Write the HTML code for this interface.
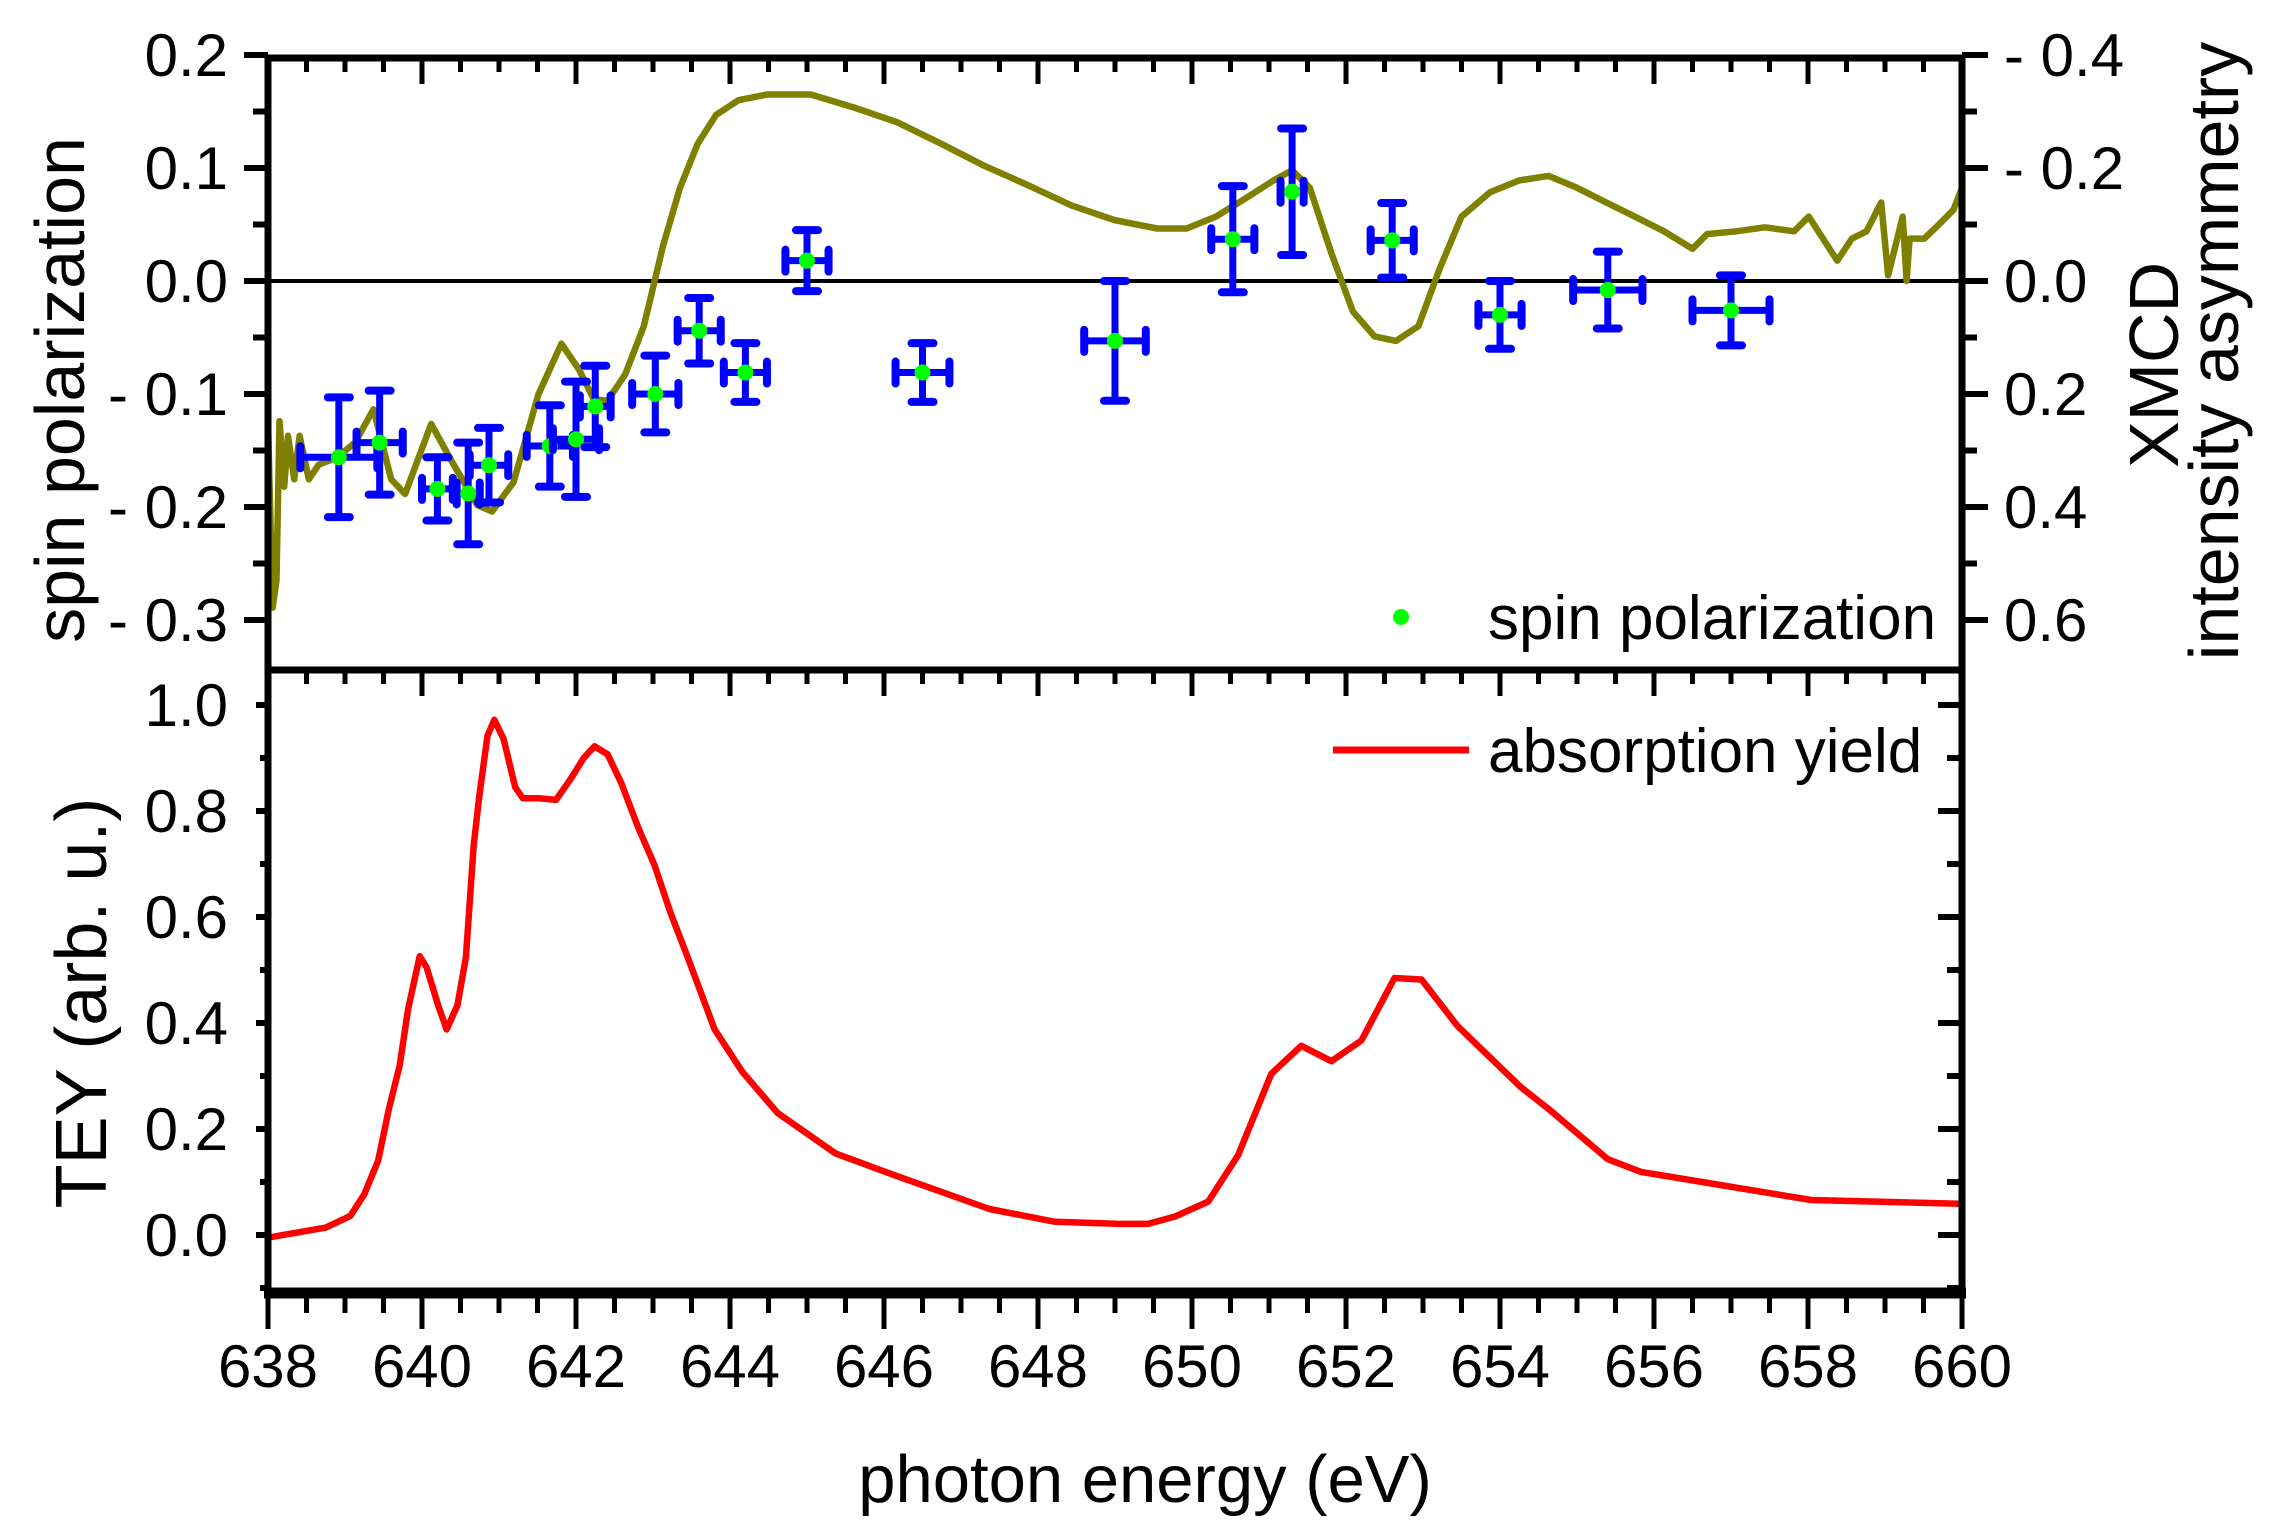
<!DOCTYPE html>
<html><head><meta charset="utf-8"><style>
html,body{margin:0;padding:0;background:#fff;}
svg{display:block;font-family:"Liberation Sans",sans-serif;}
</style></head><body>
<svg id="chart" width="2270" height="1534" viewBox="0 0 2270 1534" xmlns="http://www.w3.org/2000/svg"></svg>
<script>
// ---- data ----
const xTicks = [638,640,642,644,646,648,650,652,654,656,658,660];
const topLeftTicks = [0.2,0.1,0.0,-0.1,-0.2,-0.3];
const topLeftLabels = ["0.2","0.1","0.0","- 0.1","- 0.2","- 0.3"];
const rightTicks = [-0.4,-0.2,0.0,0.2,0.4,0.6];
const rightLabels = ["- 0.4","- 0.2","0.0","0.2","0.4","0.6"];
const botTicks = [0.0,0.2,0.4,0.6,0.8,1.0];
const botLabels = ["0.0","0.2","0.4","0.6","0.8","1.0"];

const spinE = [638.92,639.45,640.2,640.6,640.87,641.66,642.0,642.25,643.03,643.6,644.2,645.0,646.5,649.0,650.53,651.3,652.6,654.0,655.4,657.0];
const spinV = [-0.156,-0.143,-0.184,-0.188,-0.163,-0.146,-0.14,-0.111,-0.10,-0.044,-0.081,0.018,-0.081,-0.053,0.037,0.079,0.036,-0.03,-0.008,-0.026];
const spinYErr = [0.053,0.046,0.028,0.045,0.033,0.036,0.051,0.036,0.034,0.029,0.026,0.027,0.026,0.053,0.047,0.056,0.033,0.03,0.034,0.031];
const spinXErr = [0.5,0.3,0.2,0.15,0.25,0.3,0.3,0.2,0.3,0.28,0.28,0.28,0.35,0.4,0.28,0.15,0.28,0.28,0.45,0.5];

const xmcdE = [638.00,638.06,638.11,638.15,638.21,638.26,638.34,638.41,638.53,638.66,638.90,639.13,639.37,639.60,639.78,640.12,640.39,640.72,640.91,641.19,641.51,641.81,642.04,642.23,642.41,642.64,642.88,643.13,643.35,643.58,643.82,644.11,644.48,645.05,645.61,646.17,646.74,647.30,647.86,648.43,648.99,649.55,649.93,650.31,650.68,651.06,651.30,651.53,651.81,652.09,652.37,652.65,652.94,653.22,653.50,653.87,654.25,654.63,655.00,655.38,655.75,656.13,656.50,656.69,657.07,657.44,657.82,658.01,658.38,658.57,658.76,658.95,659.04,659.23,659.28,659.32,659.51,659.70,659.89,660.00];
const xmcdV = [0.248,0.578,0.53,0.248,0.364,0.274,0.351,0.274,0.351,0.325,0.312,0.286,0.227,0.351,0.377,0.253,0.32,0.397,0.408,0.356,0.201,0.111,0.157,0.209,0.212,0.165,0.08,-0.062,-0.165,-0.243,-0.294,-0.32,-0.33,-0.33,-0.307,-0.281,-0.243,-0.204,-0.17,-0.134,-0.108,-0.093,-0.093,-0.114,-0.145,-0.178,-0.196,-0.165,-0.049,0.054,0.098,0.106,0.08,-0.023,-0.114,-0.157,-0.178,-0.186,-0.165,-0.139,-0.114,-0.088,-0.057,-0.083,-0.088,-0.095,-0.088,-0.114,-0.036,-0.075,-0.088,-0.139,-0.01,-0.114,0.0,-0.075,-0.075,-0.1,-0.126,-0.165];

const absE = [638.04,638.75,639.07,639.25,639.43,639.57,639.71,639.82,639.97,640.06,640.21,640.32,640.46,640.57,640.67,640.74,640.85,640.94,641.06,641.21,641.31,641.53,641.74,641.92,642.10,642.24,642.41,642.59,642.81,643.02,643.23,643.45,643.80,644.16,644.62,645.37,646.15,647.37,648.22,649.06,649.43,649.78,650.21,650.60,651.03,651.42,651.81,652.20,652.63,652.98,653.45,654.27,654.63,655.40,655.83,658.04,659.96];
const absV = [-0.004,0.014,0.036,0.077,0.14,0.238,0.32,0.426,0.526,0.505,0.433,0.388,0.433,0.524,0.733,0.824,0.942,0.972,0.936,0.845,0.824,0.824,0.821,0.858,0.9,0.922,0.907,0.852,0.768,0.698,0.607,0.524,0.388,0.308,0.23,0.154,0.112,0.049,0.025,0.021,0.021,0.035,0.063,0.151,0.304,0.357,0.328,0.367,0.485,0.482,0.394,0.279,0.238,0.143,0.119,0.066,0.059];

// ---- axes ----
const X0=268, X1=1962;
const xs = e => X0 + (e-638)*(X1-X0)/22;
const yTop = v => 281 - v*1130;
const yRight = r => 281 + r*565;
const yBot = v => 1235 - v*530;
const TOP=58, MID=670, BOT=1293;

const svg=document.getElementById('chart');
const NS='http://www.w3.org/2000/svg';
function mk(tag,attrs,parent){const el=document.createElementNS(NS,tag);for(const k in attrs)el.setAttribute(k,attrs[k]);(parent||svg).appendChild(el);return el;}
function line(x1,y1,x2,y2,w,c,p){return mk('line',{x1,y1,x2,y2,'stroke-width':w,stroke:c||'#000'},p);}
function text(x,y,s,size,anchor,p){const t=mk('text',{x,y,'font-size':size,'text-anchor':anchor||'start',fill:'#000'},p);t.textContent=s;return t;}

const zl=line(X0,yTop(0),X1,yTop(0),4,'#000');



let d='';
xmcdE.forEach((e,i)=>{d+=(i?'L':'M')+xs(e).toFixed(1)+' '+yRight(xmcdV[i]).toFixed(1);});
const xp=mk('path',{d,fill:'none',stroke:'#808000','stroke-width':6.5,'stroke-linejoin':'round'});



const gs=mk('g',{});


spinE.forEach((e,i)=>{
  const g=mk('g',{},gs);
  
  
  const cx=xs(e), cy=yTop(spinV[i]);
  const x1=xs(e-spinXErr[i]), x2=xs(e+spinXErr[i]);
  const y1=yTop(spinV[i]+spinYErr[i]), y2=yTop(spinV[i]-spinYErr[i]);
  line(x1,cy,x2,cy,7,'#0000ff',g);
  line(cx,y1,cx,y2,7,'#0000ff',g);
  const c=11;
  mk('line',{x1:cx-c,y1:y1,x2:cx+c,y2:y1,'stroke-width':8,stroke:'#0000ff','stroke-linecap':'round'},g);
  mk('line',{x1:cx-c,y1:y2,x2:cx+c,y2:y2,'stroke-width':8,stroke:'#0000ff','stroke-linecap':'round'},g);
  mk('line',{x1:x1,y1:cy-c,x2:x1,y2:cy+c,'stroke-width':8,stroke:'#0000ff','stroke-linecap':'round'},g);
  mk('line',{x1:x2,y1:cy-c,x2:x2,y2:cy+c,'stroke-width':8,stroke:'#0000ff','stroke-linecap':'round'},g);
  mk('circle',{cx,cy,r:8,fill:'#00ff00'},g);
});

d='';
absE.forEach((e,i)=>{d+=(i?'L':'M')+xs(e).toFixed(1)+' '+yBot(absV[i]).toFixed(1);});
const ap=mk('path',{d,fill:'none',stroke:'#ff0000','stroke-width':6.5,'stroke-linejoin':'round'});



const fr=mk('g',{});


line(X0-3,TOP,X1+3,TOP,7,'#000',fr);
line(X0,TOP,X0,BOT,7,'#000',fr);
line(X1,TOP,X1,BOT,7,'#000',fr);
line(X0-3,MID,X1+3,MID,7,'#000',fr);
line(X0-4,BOT,X1+4,BOT,11,'#000',fr);

for(let e=638;e<=660.001;e+=0.5){
  const x=xs(e), maj=Math.abs(e/2-Math.round(e/2))<1e-6;
  line(x,TOP,x,TOP+(maj?26:14),5,'#000',fr);
  line(x,MID,x,MID+(maj?26:14),5,'#000',fr);
  line(x,BOT,x,BOT+(maj?36:20),5,'#000',fr);
}
for(let v=0.2;v>=-0.34;v-=0.05){const y=yTop(v);const maj=Math.abs(v*10-Math.round(v*10))<1e-6;line(X0,y,X0-(maj?24:15),y,6,'#000',fr);}
for(let r=-0.4;r<=0.69;r+=0.1){const y=yRight(r);const maj=Math.abs(r*5-Math.round(r*5))<1e-6;line(X1,y,X1+(maj?26:15),y,6,'#000',fr);}
for(let v=-0.1;v<=1.06;v+=0.1){const y=yBot(v);const maj=Math.abs(v*5-Math.round(v*5))<1e-6;line(X0,y,X0-(maj?12:8),y,6,'#000',fr);line(X1,y,X1-(maj?24:15),y,6,'#000',fr);}

const tl=mk('g',{});


xTicks.forEach(t=>text(xs(t),1387,String(t),60,'middle',tl));
topLeftTicks.forEach((t,i)=>text(228,yTop(t)+21,topLeftLabels[i],60,'end',tl));
rightTicks.forEach((t,i)=>text(2004,yRight(t)+21,rightLabels[i],60,'start',tl));
botTicks.forEach((t,i)=>text(228,yBot(t)+21,botLabels[i],60,'end',tl));

const xt=text(1145,1502,'photon energy (eV)',67,'middle');


const lt=text(0,0,'spin polarization',70,'middle');
lt.setAttribute('transform','translate(84,390) rotate(-90)');


const bt=text(0,0,'TEY (arb. u.)',72,'middle');
bt.setAttribute('transform','translate(106,1003) rotate(-90)');


const rt1=text(0,0,'XMCD',70,'middle');
rt1.setAttribute('transform','translate(2178,365) rotate(-90)');


const rt2=text(0,0,'intensity asymmetry',70,'middle');
rt2.setAttribute('transform','translate(2238,351) rotate(-90)');



const lg1=mk('g',{});


mk('circle',{cx:1401,cy:617,r:8,fill:'#00ff00'},lg1);
text(1488,639,'spin polarization',62,'start',lg1);
const lg2=mk('g',{});


line(1333,750,1469,750,7,'#ff0000',lg2);
text(1488,772,'absorption yield',62,'start',lg2);
</script>
</body></html>
